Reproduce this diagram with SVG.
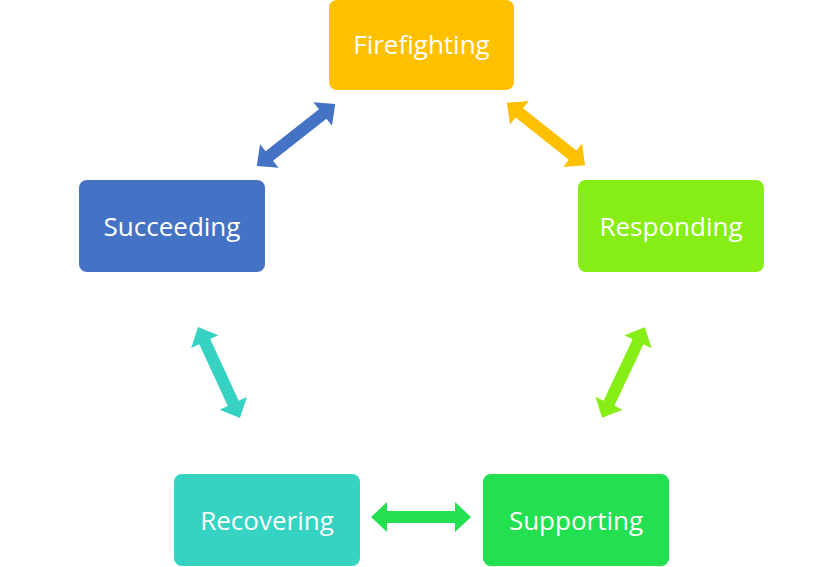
<svg xmlns="http://www.w3.org/2000/svg" xmlns:xlink="http://www.w3.org/1999/xlink" width="819" height="567" viewBox="0 0 819 567">
<style>
.box{stroke:none}
.lbl{font-family:"Open Sans","Liberation Sans",sans-serif;font-size:26px;fill:#fff;text-anchor:middle;dominant-baseline:central}
</style>
<defs>
<path id="dbl" d="M-50,0 L-34,-15 L-34,-6 L34,-6 L34,-15 L50,0 L34,15 L34,6 L-34,6 L-34,15 Z"/>
</defs>
<rect width="819" height="567" fill="#fff"/>
<g id="connectors">
<use xlink:href="#dbl" fill="#4472C4" transform="translate(296,135) rotate(-38.3)"/>
<use xlink:href="#dbl" fill="#FFC000" transform="translate(546,134) rotate(38.5)"/>
<use xlink:href="#dbl" fill="#86EE14" transform="translate(623.5,372.5) rotate(115.3)"/>
<use xlink:href="#dbl" fill="#36D3C3" transform="translate(219,372.5) rotate(65.2)"/>
<use xlink:href="#dbl" fill="#22E050" transform="translate(421,517)"/>
</g>
<g id="firefighting"><rect class="box" x="329" y="0" width="185" height="90" rx="8" fill="#FFC000"/><text class="lbl" x="421.5" y="44">Firefighting</text></g>
<g id="succeeding"><rect class="box" x="79" y="180" width="186" height="92" rx="8" fill="#4472C4"/><text class="lbl" x="172" y="226">Succeeding</text></g>
<g id="responding"><rect class="box" x="578" y="180" width="186" height="92" rx="8" fill="#86EE14"/><text class="lbl" x="671" y="226">Responding</text></g>
<g id="recovering"><rect class="box" x="174" y="474" width="186" height="92" rx="8" fill="#36D3C3"/><text class="lbl" x="267" y="520">Recovering</text></g>
<g id="supporting"><rect class="box" x="483" y="474" width="186" height="92" rx="8" fill="#22E050"/><text class="lbl" x="576" y="520">Supporting</text></g>
</svg>
